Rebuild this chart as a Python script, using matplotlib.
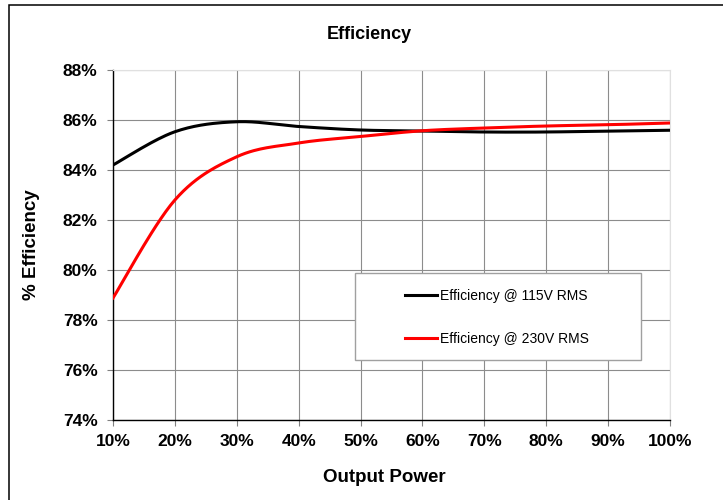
import numpy as np
import matplotlib

matplotlib.use("Agg")
import matplotlib.pyplot as plt
from matplotlib.patches import Rectangle
from matplotlib.ticker import FuncFormatter

# output power (%) and efficiency (%)
power = [10, 20, 30, 40, 50, 60, 70, 80, 90, 100]
eff_115v = [84.2, 85.53, 85.93, 85.74, 85.6, 85.56, 85.52, 85.52, 85.56, 85.59]
eff_230v = [78.88, 82.8, 84.53, 85.08, 85.34, 85.57, 85.68, 85.76, 85.81, 85.88]

W, H = 723, 500
AX_L, AX_R, AX_T, AX_B = 113, 670, 70, 420


def smooth(x, y, n=30):
    # Excel-style smoothed line: Bezier segments through the points (Catmull-Rom)
    x = np.asarray(x, float)
    y = np.asarray(y, float)
    xs, ys = [], []
    for i in range(len(x) - 1):
        x0, y0 = (x[i - 1], y[i - 1]) if i > 0 else (x[i], y[i])
        x3, y3 = (x[i + 2], y[i + 2]) if i + 2 < len(x) else (x[i + 1], y[i + 1])
        c1x = x[i] + (x[i + 1] - x0) / 6
        c1y = y[i] + (y[i + 1] - y0) / 6
        c2x = x[i + 1] - (x3 - x[i]) / 6
        c2y = y[i + 1] - (y3 - y[i]) / 6
        t = np.linspace(0, 1, n)
        xs.append((1 - t) ** 3 * x[i] + 3 * (1 - t) ** 2 * t * c1x + 3 * (1 - t) * t ** 2 * c2x + t ** 3 * x[i + 1])
        ys.append((1 - t) ** 3 * y[i] + 3 * (1 - t) ** 2 * t * c1y + 3 * (1 - t) * t ** 2 * c2y + t ** 3 * y[i + 1])
    return np.concatenate(xs), np.concatenate(ys)


def ax_x(px):
    return (px - AX_L) / (AX_R - AX_L)


def ax_y(py):
    return (AX_B - py) / (AX_B - AX_T)


plt.rcParams["font.family"] = ["Liberation Sans", "DejaVu Sans"]

fig = plt.figure(figsize=(W / 100, H / 100), dpi=100, facecolor="white")
ax = fig.add_axes([AX_L / W, 1 - AX_B / H, (AX_R - AX_L) / W, (AX_B - AX_T) / H])

# outer chart border (runs off the right and bottom edges)
fig.patches.append(
    Rectangle((9 / W, -0.05), 1.1, 1 - 5 / H + 0.05, transform=fig.transFigure,
              fill=False, edgecolor="black", linewidth=1.1)
)

x1, y1 = smooth(power, eff_115v)
x2, y2 = smooth(power, eff_230v)
ax.plot(x1, y1, color="black", linewidth=2.2, label="Efficiency @ 115V RMS", zorder=4)
ax.plot(x2, y2, color="#FF0000", linewidth=2.2, label="Efficiency @ 230V RMS", zorder=4)

ax.set_xlim(10, 100)
ax.set_ylim(74, 88)
ax.set_xticks(power)
ax.set_yticks(np.arange(74, 89, 2))
pct = FuncFormatter(lambda v, _: f"{v:.0f}%")
ax.xaxis.set_major_formatter(pct)
ax.yaxis.set_major_formatter(pct)

ax.grid(True, color="#8C8C8C", linewidth=0.8)
ax.set_axisbelow(True)
for side in ("top", "right"):
    ax.spines[side].set_color("#E0E0E0")
for side in ("left", "bottom"):
    ax.spines[side].set_color("black")
    ax.spines[side].set_linewidth(1.0)

ax.tick_params(axis="both", labelsize=12.5, direction="out", length=4, width=0.8,
               color="#808080")
ax.tick_params(axis="y", pad=7)
ax.tick_params(axis="x", pad=6)
for lbl in ax.get_xticklabels() + ax.get_yticklabels():
    lbl.set_fontweight("bold")

fig.text(31 / W, 1 - 245 / H, "% Efficiency", ha="center", va="center",
         rotation=90, fontsize=13.5, fontweight="bold")
fig.text(384 / W, 1 - 478 / H, "Output Power", ha="center", va="center",
         fontsize=13.5, fontweight="bold")
fig.text(369 / W, 1 - 34 / H, "Efficiency", ha="center", va="center",
         fontsize=13, fontweight="bold")

# legend box drawn separately, entries placed inside without a frame
ax.add_patch(
    Rectangle((ax_x(355), ax_y(360)), ax_x(641) - ax_x(355), ax_y(273) - ax_y(360),
              transform=ax.transAxes, facecolor="white", edgecolor="#A0A0A0",
              linewidth=1.0, zorder=5)
)
leg = ax.legend(
    loc="center left",
    bbox_to_anchor=(ax_x(405), ax_y(317.5)),
    fontsize=10,
    frameon=False,
    handlelength=2.3,
    handletextpad=0.2,
    labelspacing=2.05,
    borderpad=0,
    borderaxespad=0,
)
leg.set_zorder(6)
for line in leg.get_lines():
    line.set_linewidth(2.2)

fig.savefig("out.png", dpi=100, facecolor="white")
